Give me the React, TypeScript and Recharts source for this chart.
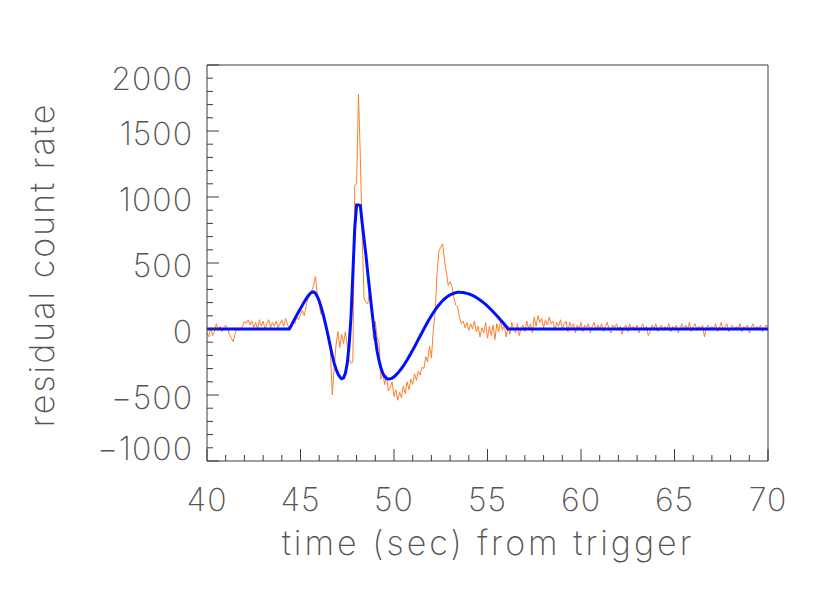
import { Line, LineChart, XAxis, YAxis } from "recharts";

// residual count rate, 0.1 s bins
const timeStep = 0.1;

const preStart = 40.0;
const preRate = [
  -30, -60, 10, -50, -20, 40, -10, 20, -20, 10,
  30, 0, -40, -70, -95, -40, 10, -10, 0, 20,
  60, 40, 70, 30, 60, 10, 50, -10, 70, 20,
  60, 0, 40, 70, 10, 50, 20, 60, 10, 40,
  70, 20, 80, 40,
];

const burstStart = 44.4;
const burstRate = [
  0, 30, 60, 40, 90, 70,
  110, 140, 100, 170, 230, 250, 290, 330, 400, 250,
  180, 110, 130, 60, -20, -90, -170, -500, -290, -120,
  -20, -140, -40, -110, -20, -130, -230, -260, -250, 1090,
  1100, 1780, 1300, 700, 230, 200, 190, 310, 220, -80,
  60, -60, -110, -380, -330, -420, -350, -470, -440, -400,
  -510, -460, -540, -480, -520, -430, -490, -400, -460, -380,
  -420, -340, -390, -320, -350, -290, -300, -210, -250, -130,
  -220, -10, 120, 420, 590, 620, 645, 520, 430, 330,
  360, 320, 240, 180, 170, 90, 40, 60, 10, 50,
  -10, 40, 0, 60, -20, 20, -60, 10, -30, 50,
  -70, 20, -50, 30, -80, 40, -20, 60, -10, 30, -60,
];

const postStart = 56.1;
const postRate = [
  20, -40, 50, 0, -30, 40, -50, 10, 30,
  -20, 60, 0, 40, -30, 90, 20, 100, 50, 80,
  10, 70, 30, 90, 40, 60, -10, 50, 20, 70,
  0, 40, 60, -20, 50, 10, 40, -30, 30, 0,
  50, -20, 30, 10, 40, -30, 20, 50, -10, 30,
  0, 40, -20, 20, 50, 0, -30, 30, 10, 40,
  -10, 20, -40, 10, 30, -20, 40, 0, 20, -10,
  30, -30, 10, 40, -10, 20, -50, -20, 30, 0,
  40, -20, 10, 30, -10, 20, 0, 40, -20, 20,
  0, 30, -30, 10, 40, -10, 30, 0, 50, -20,
  20, 40, -10, 20, 0, 30, -60, 10, 30, -10,
  20, 0, 40, -20, 10, 50, -10, 20, 40, -20,
  10, 30, -10, 20, 0, 40, -20, 20, 0, 30,
  -30, 10, 40, -10, 20, 0, 30, -20, 10, 30,
  0,
];

// fitted pulse model (zero outside 44.4 - 56.1 s)
const modelStart = 44.4;
const modelRate = [
  0, 25, 52, 79, 105, 130,
  155, 180, 205, 228, 249, 266, 279, 281, 270, 247,
  212, 168, 118, 60, -2, -66, -134, -200, -259, -303,
  -339, -363, -377, -370, -335, -260, -120, 90, 420, 760,
  940, 940, 935, 800, 680, 560, 420, 290, 160, 40,
  -70, -170, -240, -295, -335, -360, -374, -379, -378, -372,
  -362, -349, -334, -317, -299, -280, -258, -235, -211, -186,
  -160, -134, -107, -80, -53, -26, 1, 27, 53, 78,
  101, 123, 144, 164, 182, 199, 214, 228, 240, 250,
  258, 265, 271, 275, 278, 279, 277, 276, 273, 270,
  266, 260, 254, 247, 238, 229, 220, 209, 198, 186,
  173, 160, 146, 131, 116, 101, 85, 69, 53, 36,
  20, 0,
];
const modelEdges = [40, 70];

const xTicks = [
  40, 41, 42, 43, 44, 45, 46, 47, 48, 49, 50, 51, 52, 53, 54, 55,
  56, 57, 58, 59, 60, 61, 62, 63, 64, 65, 66, 67, 68, 69, 70,
];
const xLabelTicks = [40, 45, 50, 55, 60, 65, 70];
const yTicks = [
  -1000, -900, -800, -700, -600, -500, -400, -300, -200, -100, 0,
  100, 200, 300, 400, 500, 600, 700, 800, 900, 1000,
  1100, 1200, 1300, 1400, 1500, 1600, 1700, 1800, 1900, 2000,
];
const yLabelTicks = [-1000, -500, 0, 500, 1000, 1500, 2000];

const toSeries = (start: number, rates: number[]) =>
  rates.map((rate, i) => ({ t: +(start + i * timeStep).toFixed(1), rate }));

const observed = [
  ...toSeries(preStart, preRate),
  ...toSeries(burstStart, burstRate),
  ...toSeries(postStart, postRate),
];
const model = [
  { t: modelEdges[0], rate: 0 },
  ...toSeries(modelStart, modelRate),
  { t: modelEdges[1], rate: 0 },
];

const AXIS = "#3a3a3a";
const TEXT = "#555";
const FONT = "Inter, 'DejaVu Sans', sans-serif";
const MAJOR = 12;
const MINOR = 6;

const fmt = (v: number) => String(v).replace("-", "\u2212");

function LeftTick({ x, y, payload }: any) {
  const v = payload.value;
  const major = yLabelTicks.includes(v);
  // end labels sit pulled inwards, like the original plot
  const shift = v === 2000 ? 13 : v === -1000 ? -13 : 2;
  return (
    <g>
      <line x1={x} x2={x + (major ? MAJOR : MINOR)} y1={y} y2={y} stroke={AXIS} />
      {major && (
        <text
          x={x - 14}
          y={y + shift}
          textAnchor="end"
          dominantBaseline="central"
          fontFamily={FONT}
          fontWeight={200}
          fontSize={32}
          letterSpacing={1}
          fill={TEXT}
        >
          {fmt(v)}
        </text>
      )}
    </g>
  );
}

function RightTick({ x, y, payload }: any) {
  const major = yLabelTicks.includes(payload.value);
  return <line x1={x} x2={x - (major ? MAJOR : MINOR)} y1={y} y2={y} stroke={AXIS} />;
}

function BottomTick({ x, y, payload }: any) {
  const v = payload.value;
  const major = xLabelTicks.includes(v);
  return (
    <g>
      <line x1={x} x2={x} y1={y} y2={y - (major ? MAJOR : MINOR)} stroke={AXIS} />
      {major && (
        <text
          x={x}
          y={y + 38}
          textAnchor="middle"
          dominantBaseline="central"
          fontFamily={FONT}
          fontWeight={200}
          fontSize={32}
          letterSpacing={1}
          fill={TEXT}
        >
          {v}
        </text>
      )}
    </g>
  );
}

function TopTick({ x, y, payload }: any) {
  const major = xLabelTicks.includes(payload.value);
  return <line x1={x} x2={x} y1={y} y2={y + (major ? MAJOR : MINOR)} stroke={AXIS} />;
}

const titleStyle: any = {
  position: "absolute",
  fontFamily: FONT,
  fontWeight: 200,
  fontSize: 34,
  color: TEXT,
  whiteSpace: "nowrap",
  lineHeight: 1,
};

export default function App() {
  return (
    <div style={{ position: "absolute", left: 0, top: 0, width: 830, height: 593, background: "#fff" }}>
      <LineChart
        width={830}
        height={593}
        margin={{ top: 64, right: 61, bottom: 72, left: 7 }}
      >
        <XAxis
          type="number"
          dataKey="t"
          domain={[40, 70]}
          ticks={xTicks}
          interval={0}
          height={60}
          tickSize={0}
          tickMargin={0}
          tickLine={false}
          stroke={AXIS}
          tick={<BottomTick />}
        />
        <XAxis
          xAxisId="top"
          orientation="top"
          type="number"
          dataKey="t"
          domain={[40, 70]}
          ticks={xTicks}
          interval={0}
          height={1}
          tickSize={0}
          tickMargin={0}
          tickLine={false}
          stroke={AXIS}
          tick={<TopTick />}
        />
        <YAxis
          type="number"
          domain={[-1000, 2000]}
          ticks={yTicks}
          interval={0}
          width={200}
          tickSize={0}
          tickMargin={0}
          tickLine={false}
          stroke={AXIS}
          tick={<LeftTick />}
        />
        <YAxis
          yAxisId="right"
          orientation="right"
          type="number"
          domain={[-1000, 2000]}
          ticks={yTicks}
          interval={0}
          width={1}
          tickSize={0}
          tickMargin={0}
          tickLine={false}
          stroke={AXIS}
          tick={<RightTick />}
        />
        <Line
          data={observed}
          dataKey="rate"
          type="linear"
          stroke="#ff7f2a"
          strokeWidth={1}
          dot={false}
          isAnimationActive={false}
        />
        <Line
          data={model}
          dataKey="rate"
          type="linear"
          stroke="#0010ff"
          strokeWidth={3}
          dot={false}
          isAnimationActive={false}
        />
      </LineChart>

      {/* axis titles */}
      <div
        style={{
          ...titleStyle,
          left: 488,
          top: 543,
          letterSpacing: 3,
          transform: "translate(-50%, -50%)",
        }}
      >
        time (sec) from trigger
      </div>
      <div
        style={{
          ...titleStyle,
          left: 42,
          top: 265,
          letterSpacing: 2,
          transform: "translate(-50%, -50%) rotate(-90deg)",
        }}
      >
        residual count rate
      </div>
    </div>
  );
}
